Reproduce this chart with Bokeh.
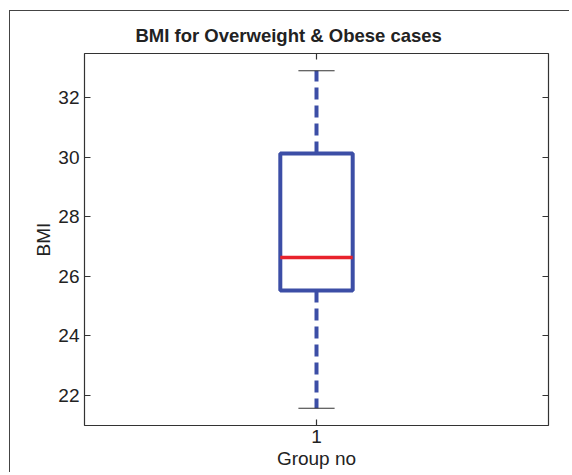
from bokeh.plotting import figure
from bokeh.models import Range1d, LinearAxis, FixedTicker, Title
from bokeh.embed import file_html
from bokeh.resources import INLINE

# data
groups = [1]
lower_whisker = [21.57]
q1 = [25.52]
median = [26.63]
q3 = [30.12]
upper_whisker = [32.9]
y_ticks = [22, 24, 26, 28, 30, 32]

BLUE = "#3c4ea6"
RED = "#e8222c"
DARK = "#333333"
FONT = "Liberation Sans"

p = figure(width=560, height=462, output_backend="svg", toolbar_location=None,
           x_range=Range1d(0.5, 1.5), y_range=Range1d(20.99, 33.48),
           min_border_left=74, min_border_right=22, min_border_top=42, min_border_bottom=48)
p.margin = (10, 0, 0, 9)
p.styles = {"border-left": "1px solid #444444", "border-top": "1px solid #444444"}
p.grid.visible = False
p.outline_line_color = DARK
p.outline_line_width = 1.2
p.background_fill_color = "white"
p.border_fill_color = "white"

def style_axis(ax):
    ax.axis_line_color = None
    ax.major_tick_in = 6
    ax.major_tick_out = 0
    ax.minor_tick_line_color = None
    ax.major_tick_line_color = DARK
    ax.major_tick_line_width = 1.2
    ax.major_label_text_font = FONT
    ax.major_label_text_font_size = "19px"
    ax.major_label_text_color = "#222222"
    ax.axis_label_text_font = FONT
    ax.axis_label_text_font_size = "19px"
    ax.axis_label_text_font_style = "normal"
    ax.axis_label_text_color = "#222222"

top_ax = LinearAxis(ticker=FixedTicker(ticks=groups), major_label_overrides={g: "" for g in groups})
right_ax = LinearAxis(ticker=FixedTicker(ticks=y_ticks), major_label_overrides={t: "" for t in y_ticks})
style_axis(top_ax)
style_axis(right_ax)
top_ax.major_label_standoff = 0
right_ax.major_label_standoff = 0
p.add_layout(top_ax, "above")
p.add_layout(right_ax, "right")

p.title.visible = False
p.add_layout(Title(text="BMI for Overweight & Obese cases", align="left",
                   text_font=FONT, text_font_size="18.5px", text_font_style="bold",
                   text_color="#222222", offset=51, standoff=15), "above")

bw = 0.078
cw = 0.039
xl = [g - bw for g in groups]
xr = [g + bw for g in groups]
cl = [g - cw for g in groups]
cr = [g + cw for g in groups]

# whiskers
p.segment(x0=groups, y0=q3, x1=groups, y1=upper_whisker, line_color=BLUE,
          line_width=4, line_dash="12 6")
p.segment(x0=groups, y0=q1, x1=groups, y1=lower_whisker, line_color=BLUE,
          line_width=4, line_dash="12 6")
# caps
p.segment(x0=cl, y0=upper_whisker, x1=cr, y1=upper_whisker, line_color=DARK, line_width=1.2)
p.segment(x0=cl, y0=lower_whisker, x1=cr, y1=lower_whisker, line_color=DARK, line_width=1.2)
# box
p.quad(left=xl, right=xr, bottom=q1, top=q3, fill_color=None, line_color=BLUE, line_width=4)
# median
p.segment(x0=xl, y0=median, x1=xr, y1=median, line_color=RED, line_width=3.5)

bottom_ax = p.below[0]
left_ax = p.left[0]
bottom_ax.ticker = FixedTicker(ticks=groups)
bottom_ax.axis_label = "Group no"
bottom_ax.axis_label_standoff = 2
bottom_ax.major_label_standoff = 4
left_ax.ticker = FixedTicker(ticks=y_ticks)
left_ax.axis_label = "BMI"
left_ax.axis_label_standoff = 1
left_ax.major_label_standoff = 5
style_axis(bottom_ax)
style_axis(left_ax)

open("out.html", "w").write(file_html(p, INLINE))
